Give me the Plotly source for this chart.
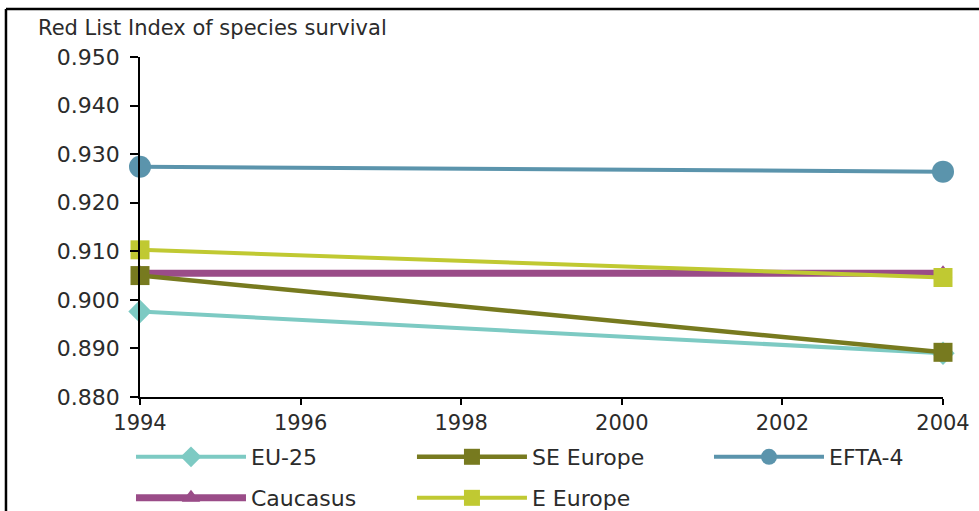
import plotly.graph_objects as go

# Red List Index of species survival, 1994 and 2004
years = [1994, 2004]
eu25 = [0.8976, 0.8890]
se_europe = [0.9050, 0.8892]
efta4 = [0.9274, 0.9264]
caucasus = [0.9055, 0.9055]
e_europe = [0.9103, 0.9046]

y_ticks = [0.880, 0.890, 0.900, 0.910, 0.920, 0.930, 0.940, 0.950]
x_ticks = [1994, 1996, 1998, 2000, 2002, 2004]

FONT = "DejaVu Sans"
TEXT = "#2b2b2b"

# (name, values, colour, symbol, marker size, line width, legend key)
series = [
    ("Caucasus", caucasus, "#9a4c88", "triangle-up", 16, 7, "legend4"),
    ("EU-25", eu25, "#7dcac3", "diamond", 18, 4, "legend"),
    ("SE Europe", se_europe, "#777a1f", "square", 19, 4.5, "legend2"),
    ("EFTA-4", efta4, "#5b94ac", "circle", 22, 4, "legend3"),
    ("E Europe", e_europe, "#c0c932", "square", 19, 4, "legend5"),
]

fig = go.Figure()
for name, vals, color, symbol, msize, lw, leg in series:
    fig.add_trace(go.Scatter(
        x=years, y=vals, name=name, mode="lines+markers",
        line=dict(color=color, width=lw),
        marker=dict(symbol=symbol, size=msize, color=color),
        cliponaxis=False, legend=leg,
    ))

# one legend box per key, laid out as a 3 + 2 grid below the axes
legend_common = dict(
    orientation="h", xanchor="left", yanchor="middle",
    xref="container", yref="container",
    font=dict(family=FONT, size=22, color=TEXT),
    itemwidth=110,
    bgcolor="rgba(0,0,0,0)", borderwidth=0,
    itemclick=False, itemdoubleclick=False,
)
col_x = [0.1338, 0.4208, 0.7242]
row_y = [0.1057, 0.0254]

fig.update_layout(
    width=979, height=511,
    margin=dict(l=140, r=36, t=57, b=114, autoexpand=False),
    paper_bgcolor="white", plot_bgcolor="white",
    font=dict(family=FONT, color=TEXT),
    showlegend=True,
    legend=dict(x=col_x[0], y=row_y[0], **legend_common),
    legend2=dict(x=col_x[1], y=row_y[0], **legend_common),
    legend3=dict(x=col_x[2], y=row_y[0], **legend_common),
    legend4=dict(x=col_x[0], y=row_y[1], **legend_common),
    legend5=dict(x=col_x[1], y=row_y[1], **legend_common),
    xaxis=dict(
        range=[1994, 2004], tickvals=x_ticks, ticktext=[str(v) for v in x_ticks],
        showgrid=False, zeroline=False, showline=True, linecolor="black", linewidth=1.5,
        ticks="outside", ticklen=6, tickwidth=1.5, tickcolor="black",
        tickfont=dict(family=FONT, size=21, color=TEXT),
    ),
    yaxis=dict(
        range=[0.880, 0.950], tickvals=y_ticks, tickformat=".3f",
        showgrid=False, zeroline=False, showline=True, linecolor="black", linewidth=1.5,
        ticks="outside", ticklen=8, tickwidth=1.5, tickcolor="black",
        ticklabelstandoff=6,
        tickfont=dict(family=FONT, size=22, color=TEXT),
    ),
    annotations=[dict(
        text="Red List Index of species survival", xref="paper", yref="paper",
        x=-0.13, y=1.085, xanchor="left", yanchor="middle", showarrow=False,
        font=dict(family=FONT, size=21, color=TEXT),
    )],
    shapes=[
        dict(type="line", xref="paper", yref="paper", x0=-0.1669, x1=-0.1669,
             y0=-0.40, y1=1.1412, line=dict(color="black", width=2.5)),
        dict(type="line", xref="paper", yref="paper", x0=-0.1669, x1=1.10,
             y0=1.1412, y1=1.1412, line=dict(color="black", width=2.5)),
    ],
)

fig.write_html("out.html")
